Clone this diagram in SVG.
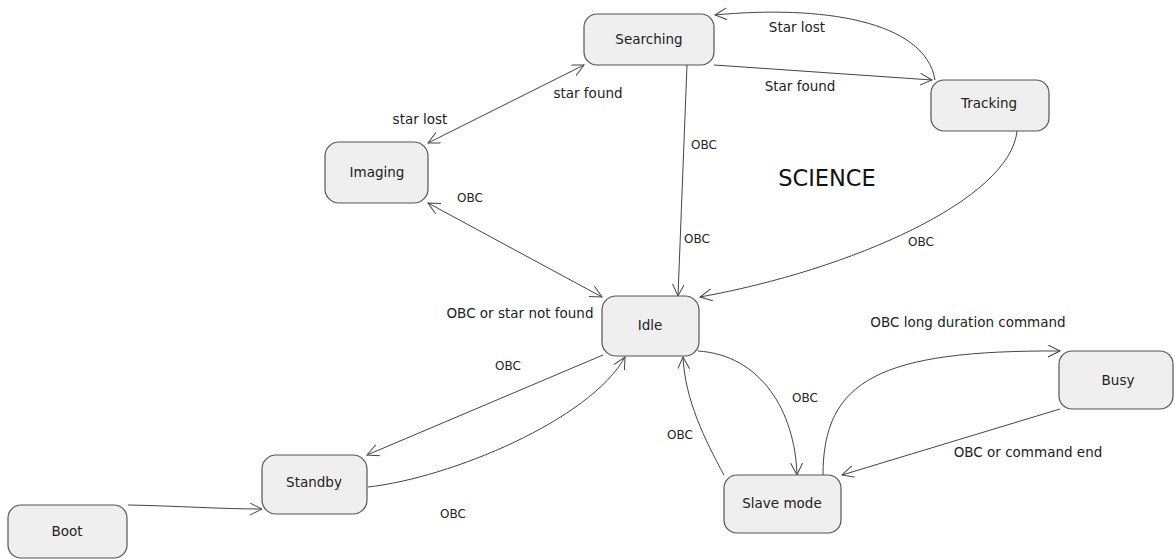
<svg xmlns="http://www.w3.org/2000/svg" width="1175" height="559" viewBox="0 0 1175 559">
<style>
.node rect{fill:#efefef;stroke:#555;stroke-width:1.2}
.node text{font-family:"DejaVu Sans",sans-serif;font-size:13.5px;fill:#222;text-anchor:middle;dominant-baseline:central}
.edge{fill:none;stroke:#444;stroke-width:1}
.lbl{font-family:"DejaVu Sans",sans-serif;font-size:13.5px;fill:#222;text-anchor:middle;dominant-baseline:central}
.obc{font-size:12px}
.title{font-family:"DejaVu Sans",sans-serif;font-size:22.5px;fill:#111;text-anchor:middle;dominant-baseline:central}
</style>
<defs>
<marker id="arr" markerUnits="userSpaceOnUse" markerWidth="14" markerHeight="14" refX="12" refY="6" orient="auto-start-reverse">
<path d="M0,0 L12,6 L0,12" fill="none" stroke="#444" stroke-width="1"/>
</marker>
</defs>
<rect width="1175" height="559" fill="#fff"/>
<g id="connectors">
<path class="edge" d="M128,505 C180,506 220,509 262,509" marker-end="url(#arr)"/>
<path class="edge" d="M603,355 L367,455" marker-end="url(#arr)"/>
<path class="edge" d="M368,487 C450,478 590,420 625,357" marker-end="url(#arr)"/>
<path class="edge" d="M428,203 L602,297" marker-start="url(#arr)" marker-end="url(#arr)"/>
<path class="edge" d="M428,143 L584,65" marker-start="url(#arr)" marker-end="url(#arr)"/>
<path class="edge" d="M687,65 L678,296" marker-end="url(#arr)"/>
<path class="edge" d="M1017,131 C1010,200 850,270 700,297" marker-end="url(#arr)"/>
<path class="edge" d="M714,65 L932,80" marker-end="url(#arr)"/>
<path class="edge" d="M935,80 C925,20 820,5 715,15" marker-end="url(#arr)"/>
<path class="edge" d="M698,351 C760,355 795,410 797,475" marker-end="url(#arr)"/>
<path class="edge" d="M724,475 C705,440 685,400 683,357" marker-end="url(#arr)"/>
<path class="edge" d="M823,475 C823,380 880,350 1060,351" marker-end="url(#arr)"/>
<path class="edge" d="M1060,409 L842,475" marker-end="url(#arr)"/>
<text class="lbl" x="797" y="27">Star lost</text>
<text class="lbl" x="800" y="86">Star found</text>
<text class="lbl" x="588" y="93">star found</text>
<text class="lbl" x="420" y="119">star lost</text>
<text class="lbl obc" x="470" y="198">OBC</text>
<text class="lbl obc" x="704" y="145">OBC</text>
<text class="lbl obc" x="697" y="239">OBC</text>
<text class="lbl obc" x="921" y="242">OBC</text>
<text class="lbl" x="520" y="313">OBC or star not found</text>
<text class="lbl obc" x="508" y="366">OBC</text>
<text class="lbl obc" x="453" y="514">OBC</text>
<text class="lbl" x="968" y="322">OBC long duration command</text>
<text class="lbl" x="1028" y="452">OBC or command end</text>
<text class="lbl obc" x="805" y="398">OBC</text>
<text class="lbl obc" x="680" y="435">OBC</text>
</g>
<text class="title" x="827" y="178">SCIENCE</text>
<g id="searching" class="node"><rect x="584" y="14" width="130" height="51" rx="13"/><text x="649" y="39">Searching</text></g>
<g id="tracking" class="node"><rect x="931" y="80" width="118" height="51" rx="13"/><text x="989" y="103">Tracking</text></g>
<g id="imaging" class="node"><rect x="325" y="142" width="103" height="61" rx="14"/><text x="377" y="172">Imaging</text></g>
<g id="idle" class="node"><rect x="602" y="296" width="97" height="60" rx="14"/><text x="650" y="325">Idle</text></g>
<g id="busy" class="node"><rect x="1059" y="351" width="114" height="58" rx="13"/><text x="1118" y="380">Busy</text></g>
<g id="standby" class="node"><rect x="262" y="455" width="105" height="59" rx="14"/><text x="314" y="482">Standby</text></g>
<g id="slave" class="node"><rect x="724" y="475" width="117" height="58" rx="13"/><text x="782" y="503">Slave mode</text></g>
<g id="boot" class="node"><rect x="8" y="505" width="119" height="53" rx="13"/><text x="67" y="531">Boot</text></g>
</svg>
